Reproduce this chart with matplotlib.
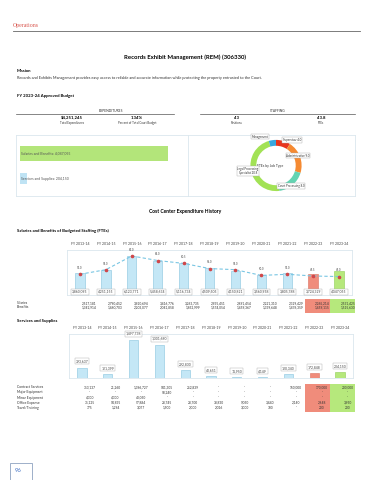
import numpy as np
import matplotlib
matplotlib.use("Agg")
import matplotlib.pyplot as plt
from matplotlib.patches import Rectangle
from matplotlib.transforms import blended_transform_factory

plt.rcParams["font.family"] = ["Lato", "DejaVu Sans"]

# ---------- Data ----------
years = ["FY 2013-14", "FY 2014-15", "FY 2015-16", "FY 2016-17", "FY 2017-18", "FY 2018-19",
         "FY 2019-20", "FY 2020-21", "FY 2021-22", "FY 2022-23", "FY 2023-24"]

budget_cats = ["Salaries and Benefits", "Services and Supplies"]
budget_vals = [4047055, 204150]

job_types = ["Supervisor", "Administrative", "Court Processing", "Legal Processing\nSpecialist", "Management"]
job_ftes = [4.0, 9.0, 8.0, 20.8, 2.0]

fte = [51.0, 55.0, 67.0, 63.0, 60.5, 56.0, 55.0, 50.0, 51.0, 49.5, 49.0]
sal_totals = [3860095, 4251155, 6123771, 5458634, 5116734, 4509505, 4150821, 3560958, 3805788, 3724329, 4047055]
salaries = [2517181, 2790452, 3920694, 3416776, 3263735, 2935451, 2691454, 2221310, 2329429, 2265214, 2531425]
benefits = [1342914, 1460703, 2203077, 2041858, 1852999, 1574054, 1459367, 1339648, 1476359, 1459115, 1515630]

svc_totals = [393637, 121399, 1497738, 1301680, 292830, 40651, 11950, 4149, 120340, 172848, 204150]
contract = [353137, 21260, 1396727, 941305, 252839, 0, 0, 0, 150000, 170000, 200000]
major_eq = [0, 0, 0, 50240, 0, 0, 0, 0, 0, 0, 0]
minor_eq = [4300, 4300, 40050, 0, 0, 0, 0, 0, 0, 0, 0]
office = [35125, 94835, 57884, 28745, 28700, 38830, 9050, 3440, 2140, 2648, 3950]
travel = [775, 1294, 3077, 1500, 2000, 2016, 3000, 700, 0, 200, 200]

# ---------- Style ----------
W, H = 370, 480
BLUE = "#c4e7f6"
BLUE_EDGE = "#86c4de"
SALMON = "#f08c7b"
GREEN = "#b6e87c"
FRAME = "#dbe7ee"
TXT = "#333333"
bar_colors = [BLUE] * 9 + [SALMON, GREEN]
edge_colors = [BLUE_EDGE] * 9 + ["#d9705f", "#8fcf55"]

fig = plt.figure(figsize=(W / 100, H / 100), dpi=100)


def txt(x, y, s, size=2.6, **kw):
    kw.setdefault("va", "center")
    kw.setdefault("color", TXT)
    fig.text(x / W, 1 - y / H, s, fontsize=size, **kw)


def axes_px(x0, y0, x1, y1):
    return fig.add_axes([x0 / W, 1 - y1 / H, (x1 - x0) / W, (y1 - y0) / H])


def fmt(v):
    return "-" if v == 0 else f"{v:,.0f}"


def frame(ax):
    ax.set_xticks([])
    ax.set_yticks([])
    for s in ax.spines.values():
        s.set_color(FRAME)
        s.set_linewidth(0.6)


# ---------- Header ----------
txt(13, 26, "Operations", size=4.2, color="#d9574f", family="Liberation Serif")
fig.add_artist(plt.Line2D([13 / W, 360 / W], [1 - 30.5 / H] * 2, color="#666666", lw=0.6))
txt(185, 57, "Records Exhibit Management (REM) (306330)", size=4.3, ha="center", weight="bold", color="black")
txt(17, 71, "Mission", size=3.0, weight="bold", color="black")
txt(17, 78, "Records and Exhibits Management provides easy access to reliable and accurate information "
            "while protecting the property entrusted to the Court.", size=2.75)
txt(17, 96, "FY 2023-24 Approved Budget", size=3.1, weight="bold", color="black")

txt(111, 111, "EXPENDITURES", size=2.4, ha="center")
txt(278, 111, "STAFFING", size=2.4, ha="center")
fig.add_artist(plt.Line2D([16 / W, 174 / W], [1 - 114 / H] * 2, color="#555555", lw=0.5))
fig.add_artist(plt.Line2D([200 / W, 355 / W], [1 - 114 / H] * 2, color="#555555", lw=0.5))
for cx, big, small in [(72, "$4,251,245", "Total Expenditures"),
                       (137, "1.34%", "Percent of Total Court Budget"),
                       (237, "43", "Positions"),
                       (321, "43.8", "FTEs")]:
    txt(cx, 117.7, big, size=3.1, ha="center", weight="bold", color="black")
    txt(cx, 123, small, size=2.1, ha="center")

# ---------- Budget bars ----------
axb = axes_px(16, 135, 188, 196)
axb.barh([0, 1], budget_vals, height=[0.6, 0.44], color=["#b3e57a", "#bfe3f4"])
axb.set_xlim(-0.109e6, 4.594e6)
axb.set_ylim(1.687, -0.734)
frame(axb)
for i, (c, v) in enumerate(zip(budget_cats, budget_vals)):
    axb.text(0.04e6, i, f"{c}: {v:,.0f}", fontsize=2.5, va="center", color="#555555")

# ---------- Donut ----------
axr = axes_px(188, 135, 355, 196)
frame(axr)
R = 31
axd = axes_px(276 - R - 1, 165.5 - R - 1, 276 + R + 1, 165.5 + R + 1)
donut_colors = ["#e8351e", "#f58a32", "#63d4b2", "#a2e255", "#38a8e0"]
axd.pie(job_ftes, colors=donut_colors, startangle=90, counterclock=False,
        wedgeprops=dict(width=0.23, edgecolor="none"))
axd.set_aspect("equal")
txt(270, 165.7, "FTEs by Job Type", size=2.4, ha="center")
box = dict(boxstyle="square,pad=0.25", fc="white", ec="#aaaaaa", lw=0.3)
lab_pos = [(292, 140), (298, 155.7), (291, 186), (248, 171), (260, 136.7)]
for (lx, ly), name, v in zip(lab_pos, job_types, job_ftes):
    s = name if name == "Management" else f"{name} {v:.1f}"
    txt(lx, ly, s, size=2.1, ha="center", bbox=box, linespacing=1.0)

# ---------- Cost Center Expenditure History ----------
txt(185, 212, "Cost Center Expenditure History", size=3.6, ha="center", weight="bold", color="black")
txt(17, 231, "Salaries and Benefits of Budgeted Staffing (FTEs)", size=3.1, weight="bold", color="black")

x = np.arange(len(years))
ax1 = axes_px(67, 250, 352, 295)
ax1.bar(x, sal_totals, width=0.36, color=bar_colors, edgecolor=edge_colors, lw=0.4)
ax1.set_xlim(-0.5, 10.5)
ax1.set_ylim(0.89e6, 6.88e6)
frame(ax1)
ax1.xaxis.tick_top()
ax1.set_xticks(x)
ax1.set_xticklabels(years, fontsize=2.5, color="#444444")
ax1.tick_params(axis="x", length=0, pad=3)
tb1 = blended_transform_factory(ax1.transData, ax1.transAxes)
for i, v in enumerate(sal_totals):
    ax1.text(i, 0.075, f"{v:,.0f}", transform=tb1, fontsize=2.4, ha="center", va="center", color="#444444",
             bbox=dict(boxstyle="square,pad=0.3", fc="white", ec="#aaaaaa", lw=0.3), zorder=5)

ax1b = ax1.twinx()
ax1b.plot(x, fte, ls=(0, (3, 2)), color="#79c6e3", lw=0.8, marker="o", ms=1.6,
          mfc="#d0474a", mec="#d0474a", zorder=4)
ax1b.set_ylim(32.9, 72.2)
ax1b.set_yticks([])
for s in ax1b.spines.values():
    s.set_visible(False)
for i, v in enumerate(fte):
    ax1b.annotate(f"{v:.1f}", (i, v), xytext=(0, 3), textcoords="offset points",
                  fontsize=2.0, ha="center", va="bottom", color="#444444")

# table rows for salaries / benefits
tf1 = blended_transform_factory(ax1.transData, fig.transFigure)
fig.add_artist(Rectangle((305 / W, 1 - 313 / H), 25 / W, 14 / H, transform=fig.transFigure, fc=SALMON, ec="none"))
fig.add_artist(Rectangle((330 / W, 1 - 313 / H), 25 / W, 14 / H, transform=fig.transFigure, fc=GREEN, ec="none"))
for yy, name, vals in [(303, "Salaries", salaries), (307.5, "Benefits", benefits)]:
    txt(17, yy, name, size=2.4)
    for i, v in enumerate(vals):
        fig.text(i + 0.35, 1 - yy / H, fmt(v), transform=tf1, fontsize=2.3, ha="center", va="center",
                 color=TXT)

# ---------- Services and Supplies ----------
txt(17, 321, "Services and Supplies", size=3.1, weight="bold", color="black")
ax2 = axes_px(69, 334, 353, 377.5)
ax2.bar(x, svc_totals, width=0.36, color=bar_colors, edgecolor=edge_colors, lw=0.4)
ax2.set_xlim(-0.5, 10.5)
ax2.set_ylim(0, 1.73e6)
frame(ax2)
ax2.xaxis.tick_top()
ax2.set_xticks(x)
ax2.set_xticklabels(years, fontsize=2.5, color="#444444")
ax2.tick_params(axis="x", length=0, pad=3)
for i, v in enumerate(svc_totals):
    ax2.annotate(f"{v:,.0f}", (i, v), xytext=(0, 3), textcoords="offset points", fontsize=2.4,
                 ha="center", va="bottom", color="#444444", annotation_clip=False,
                 bbox=dict(boxstyle="square,pad=0.3", fc="white", ec="#aaaaaa", lw=0.3))

tf2 = blended_transform_factory(ax2.transData, fig.transFigure)
fig.add_artist(Rectangle((305 / W, 1 - 411.5 / H), 25 / W, 28 / H, transform=fig.transFigure, fc=SALMON, ec="none"))
fig.add_artist(Rectangle((330 / W, 1 - 411.5 / H), 25 / W, 28 / H, transform=fig.transFigure, fc=GREEN, ec="none"))
rows = [(387.3, "Contract Services", contract), (392.3, "Major Equipment", major_eq),
        (397.5, "Minor Equipment", minor_eq), (402.7, "Office Expense", office),
        (407.8, "Travel/Training", travel)]
for yy, name, vals in rows:
    txt(17, yy, name, size=2.4)
    for i, v in enumerate(vals):
        fig.text(i + 0.3, 1 - yy / H, fmt(v), transform=tf2, fontsize=2.3, ha="center", va="center",
                 color=TXT)

# ---------- Page number ----------
fig.add_artist(Rectangle((10 / W, 0), 22 / W, 17 / H, transform=fig.transFigure, fc="white",
                         ec="#8ea2c0", lw=0.6))
txt(18, 471, "96", size=4.2, color="#4472c4", ha="center")

fig.savefig("out.png", dpi=100)
